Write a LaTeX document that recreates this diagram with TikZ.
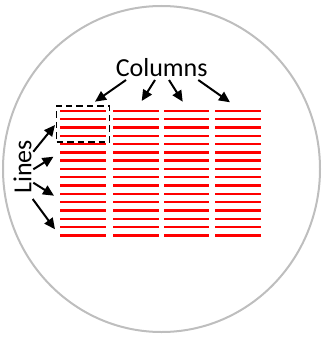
\documentclass[tikz,border=0pt]{standalone}
\usepackage{fontspec}
\setmainfont{Carlito}
\usetikzlibrary{arrows.meta}
\definecolor{ringgray}{RGB}{190,190,190}
\tikzset{
  lbl/.style={font=\fontsize{26}{30}\selectfont, inner sep=0pt},
  ptr/.style={line width=2pt, -{Triangle[length=11pt,width=10pt]}},
  redline/.style={red, line width=2.4pt},
  boxdash/.style={black, line width=1.8pt, dash pattern=on 6.5pt off 4pt}
}
\begin{document}
\begin{tikzpicture}[x=1pt,y=-1pt]
\useasboundingbox (0,0) rectangle (321,337);
\draw[ringgray, line width=2pt] (161.5,169) ellipse [x radius=158.5, y radius=163];
% red lines
\foreach \xa/\xb in {60/106, 113.3/158.5, 164.2/209.3, 215.2/260.5}{
  \foreach \i in {0,...,15}{
    \draw[redline] (\xa,110.8+8.3*\i) -- (\xb,110.8+8.3*\i);
  }
}
% dashed box
\node[boxdash, draw, minimum width=53pt, minimum height=35.7pt, inner sep=0pt] (box) at (83,123.8) {};
% labels
\node[lbl, anchor=base] (cols) at (161.7,76) {Columns};
\node[lbl, anchor=base, rotate=90] (lines) at (31.3,167) {Lines};
% arrow start/end points
\coordinate (c1s) at (126,80);   \coordinate (c1e) at (95,101.7);
\coordinate (c2s) at (155,80);   \coordinate (c2e) at (141.7,101);
\coordinate (c3s) at (169,80);   \coordinate (c3e) at (182.7,101.7);
\coordinate (c4s) at (198.3,80); \coordinate (c4e) at (230,102.3);
\coordinate (l1s) at (33.3,151.7); \coordinate (l1e) at (55,125);
\coordinate (l2s) at (33.3,169.3); \coordinate (l2e) at (53.5,156.7);
\coordinate (l3s) at (33.3,182.7); \coordinate (l3e) at (54,195.7);
\coordinate (l4s) at (32.7,199);   \coordinate (l4e) at (55,229.3);
\foreach \a in {c1,c2,c3,c4,l1,l2,l3,l4}{
  \draw[ptr] (\a s) -- (\a e);
}
\end{tikzpicture}
\end{document}
